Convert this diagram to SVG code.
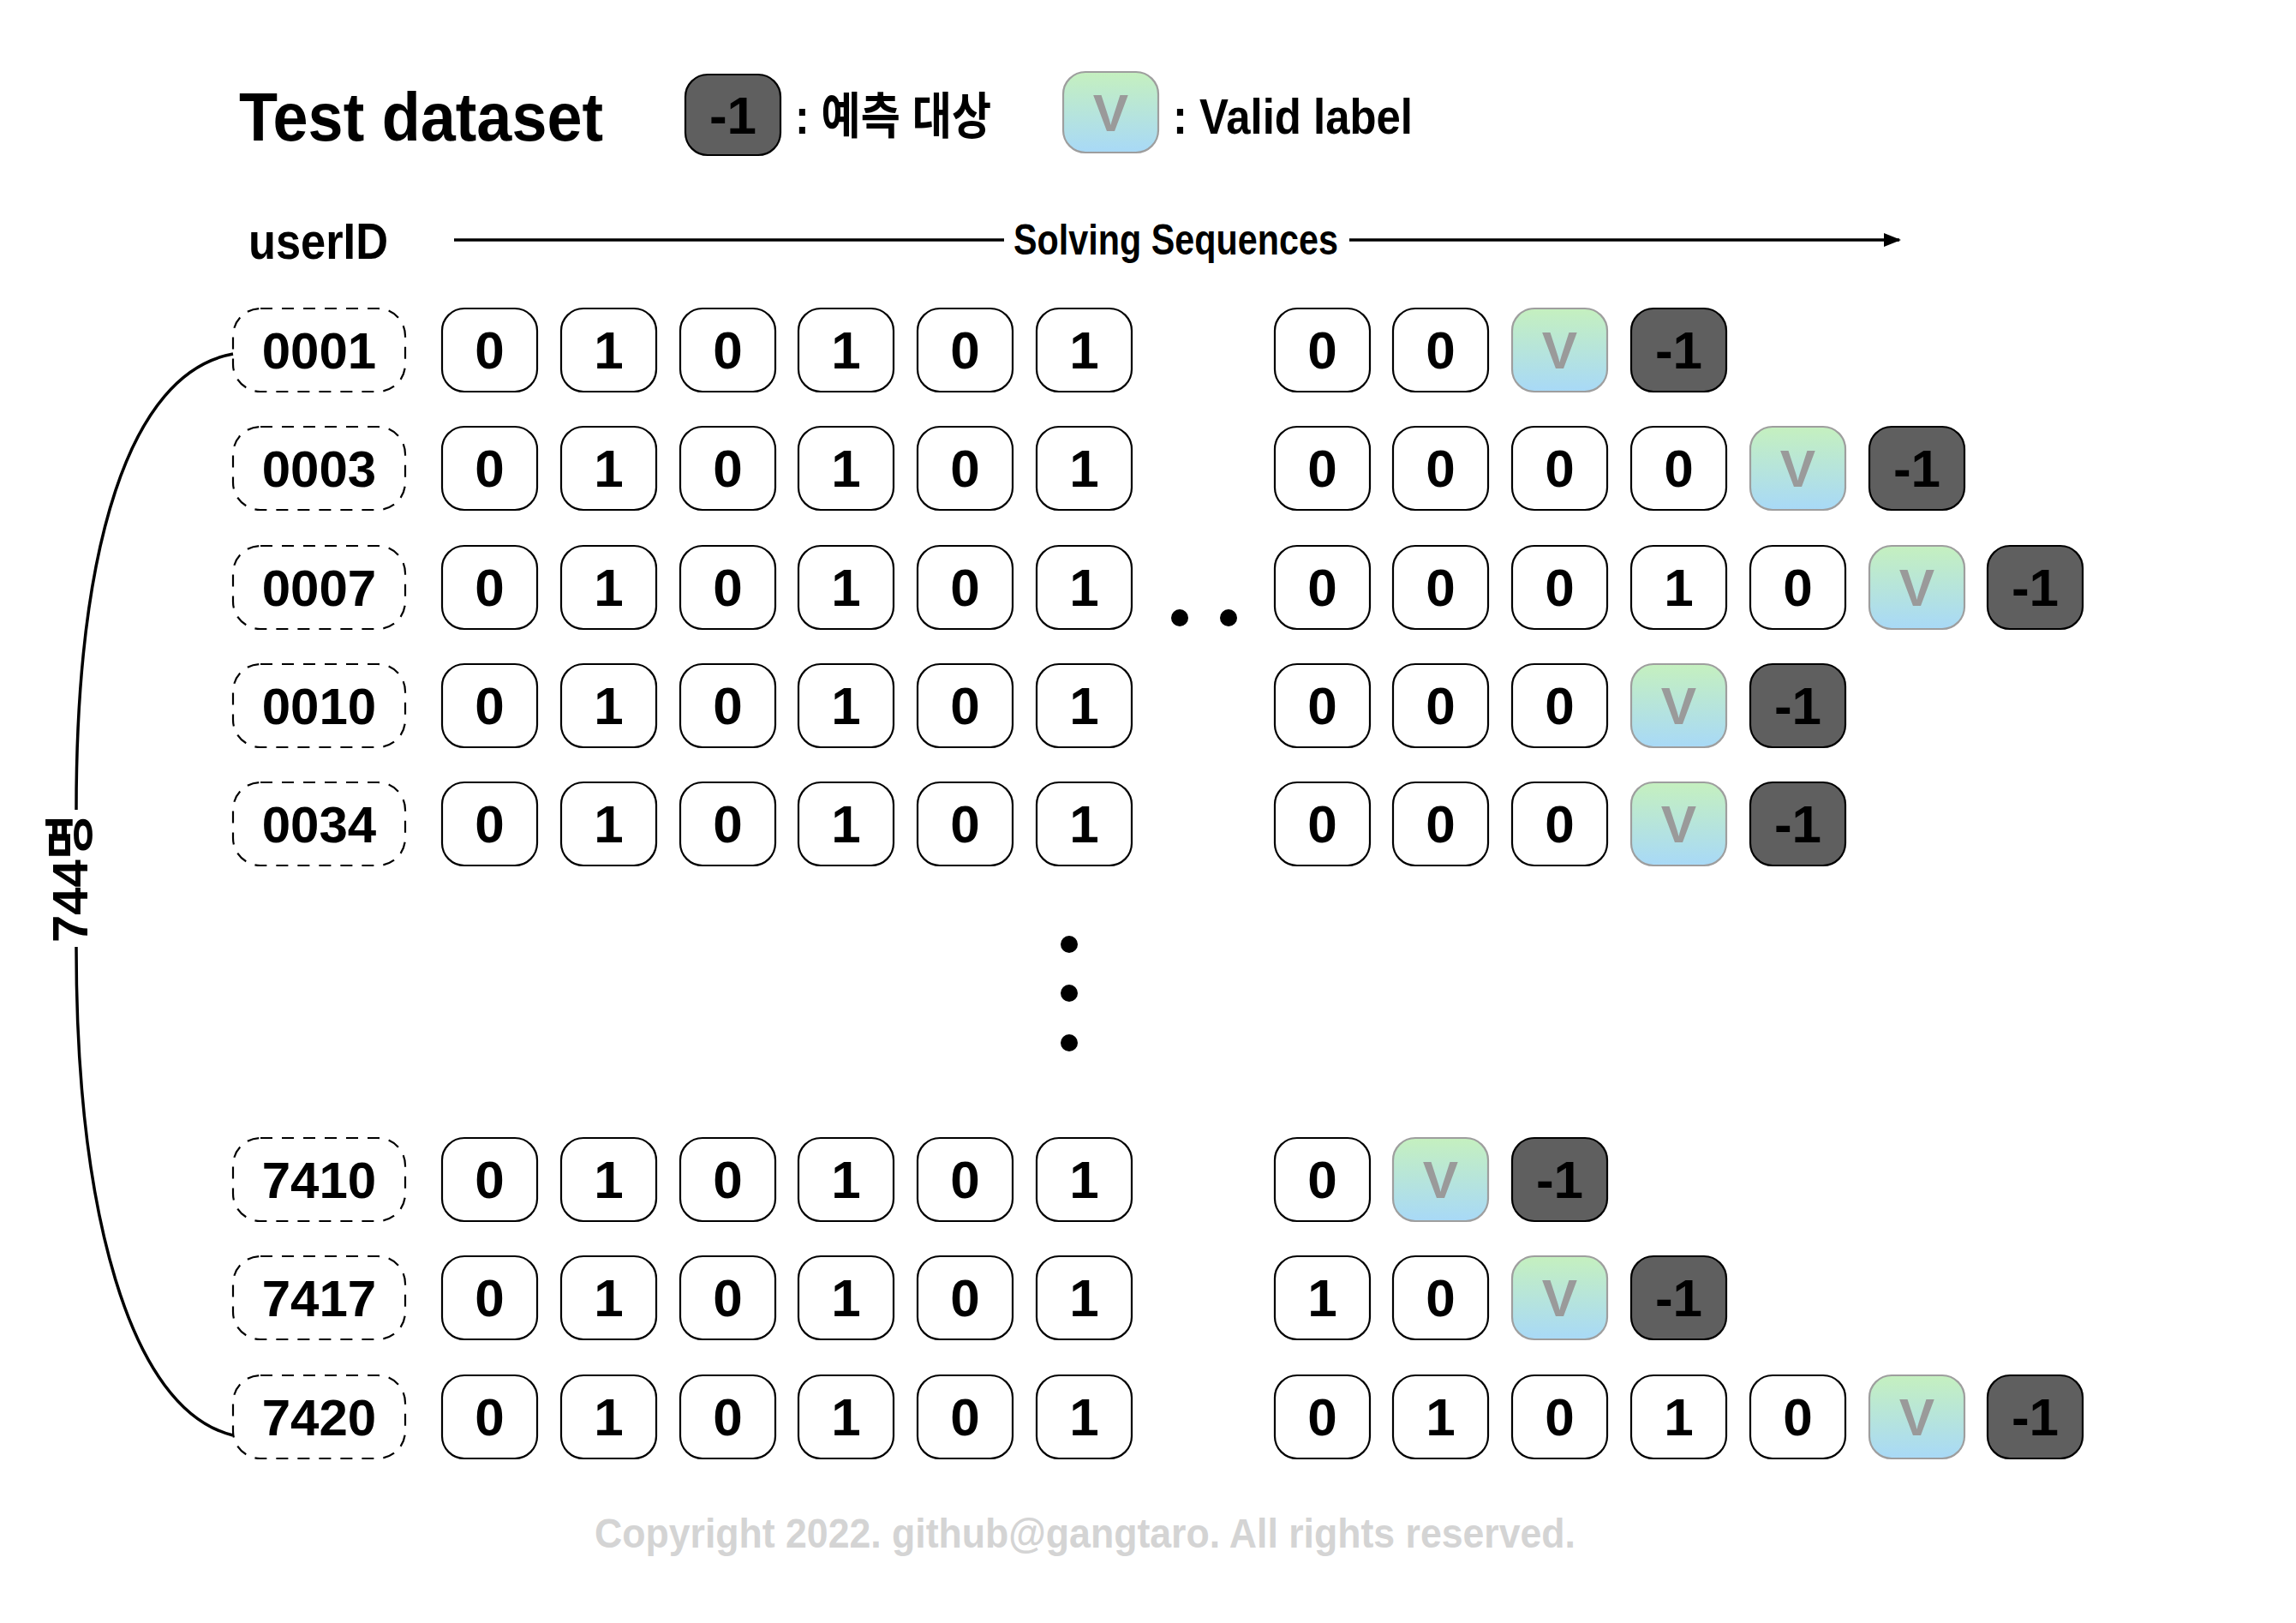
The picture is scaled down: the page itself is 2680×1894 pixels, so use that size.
<svg xmlns="http://www.w3.org/2000/svg" width="2680" height="1894" viewBox="0 0 2680 1894">
<defs>
<linearGradient id="vg" x1="0" y1="0" x2="0" y2="1"><stop offset="0" stop-color="#c5f0bf"/><stop offset="1" stop-color="#a8d9f7"/></linearGradient>
<marker id="ah" viewBox="0 0 20 16" refX="18" refY="8" markerWidth="20" markerHeight="16" markerUnits="userSpaceOnUse" orient="auto"><path d="M0,0 L20,8 L0,16 Z" fill="#000"/></marker>
<style>
text{font-family:"Liberation Sans","Noto Sans CJK KR",sans-serif;font-weight:bold}
.c{fill:#fff;stroke:#000;stroke-width:2.2}
.v{fill:url(#vg);stroke:#9e9e9e;stroke-width:2.2}
.n{fill:#5f5f5f;stroke:#000;stroke-width:2.2}
.u{fill:none;stroke:#000;stroke-width:2.2;stroke-dasharray:14 11}
.t{font-size:62px;text-anchor:middle;fill:#000}
.tv{font-size:62px;text-anchor:middle;fill:#9a9a9a}
.id{font-size:60px;text-anchor:middle;fill:#000}
.dot{fill:#000}
</style>
</defs>
<rect width="2680" height="1894" fill="#fff"/>
<g id="header">
<text x="279" y="164" font-size="80" textLength="425" lengthAdjust="spacingAndGlyphs">Test dataset</text>
<g id="legend-neg"><rect class="n" x="800" y="87" width="111" height="94" rx="26"/><text class="t" x="855.5" y="156">-1</text></g>
<text x="928" y="156" font-size="58" textLength="229" lengthAdjust="spacingAndGlyphs">: 예측 대상</text>
<g id="legend-v"><rect class="v" x="1241" y="84" width="111" height="94" rx="26"/><text class="tv" x="1296.5" y="153">V</text></g>
<text x="1369" y="156" font-size="58" textLength="280" lengthAdjust="spacingAndGlyphs">: Valid label</text>
<text x="290" y="302" font-size="60" textLength="163" lengthAdjust="spacingAndGlyphs">userID</text>
<text x="1183" y="297" font-size="50" textLength="379" lengthAdjust="spacingAndGlyphs">Solving Sequences</text>
</g>
<g id="connectors" fill="none" stroke="#000" stroke-width="3.5">
<path d="M530,280 H1172"/>
<path d="M1575,280 H2217" marker-end="url(#ah)"/>
<path d="M272,413 C150,435 89,640 89,945"/>
<path d="M89,1105 C89,1410 150,1645 272,1675"/>
</g>
<text x="82" y="1025" font-size="58" text-anchor="middle" transform="rotate(-90 82 1025)" dy="20">744명</text>
<g id="ellipsis">
<circle class="dot" cx="1377" cy="721" r="10"/><circle class="dot" cx="1434" cy="721" r="10"/>
<circle class="dot" cx="1248" cy="1102" r="10"/><circle class="dot" cx="1248" cy="1159" r="10"/><circle class="dot" cx="1248" cy="1217" r="10"/>
</g>

<g id="row-0001">
<g id="u0001"><rect class="u" x="272" y="360" width="201" height="97" rx="32"/><text class="id" x="372.5" y="430">0001</text></g>
<g id="r1c0"><rect class="c" x="516" y="360" width="111" height="97" rx="26"/><text class="t" x="571.5" y="430">0</text></g>
<g id="r1c1"><rect class="c" x="655" y="360" width="111" height="97" rx="26"/><text class="t" x="710.5" y="430">1</text></g>
<g id="r1c2"><rect class="c" x="794" y="360" width="111" height="97" rx="26"/><text class="t" x="849.5" y="430">0</text></g>
<g id="r1c3"><rect class="c" x="932" y="360" width="111" height="97" rx="26"/><text class="t" x="987.5" y="430">1</text></g>
<g id="r1c4"><rect class="c" x="1071" y="360" width="111" height="97" rx="26"/><text class="t" x="1126.5" y="430">0</text></g>
<g id="r1c5"><rect class="c" x="1210" y="360" width="111" height="97" rx="26"/><text class="t" x="1265.5" y="430">1</text></g>
<g id="r1c7"><rect class="c" x="1488" y="360" width="111" height="97" rx="26"/><text class="t" x="1543.5" y="430">0</text></g>
<g id="r1c8"><rect class="c" x="1626" y="360" width="111" height="97" rx="26"/><text class="t" x="1681.5" y="430">0</text></g>
<g id="r1c9"><rect class="v" x="1765" y="360" width="111" height="97" rx="26"/><text class="tv" x="1820.5" y="430">V</text></g>
<g id="r1c10"><rect class="n" x="1904" y="360" width="111" height="97" rx="26"/><text class="t" x="1959.5" y="430">-1</text></g>
</g>

<g id="row-0003">
<g id="u0003"><rect class="u" x="272" y="498" width="201" height="97" rx="32"/><text class="id" x="372.5" y="568">0003</text></g>
<g id="r2c0"><rect class="c" x="516" y="498" width="111" height="97" rx="26"/><text class="t" x="571.5" y="568">0</text></g>
<g id="r2c1"><rect class="c" x="655" y="498" width="111" height="97" rx="26"/><text class="t" x="710.5" y="568">1</text></g>
<g id="r2c2"><rect class="c" x="794" y="498" width="111" height="97" rx="26"/><text class="t" x="849.5" y="568">0</text></g>
<g id="r2c3"><rect class="c" x="932" y="498" width="111" height="97" rx="26"/><text class="t" x="987.5" y="568">1</text></g>
<g id="r2c4"><rect class="c" x="1071" y="498" width="111" height="97" rx="26"/><text class="t" x="1126.5" y="568">0</text></g>
<g id="r2c5"><rect class="c" x="1210" y="498" width="111" height="97" rx="26"/><text class="t" x="1265.5" y="568">1</text></g>
<g id="r2c7"><rect class="c" x="1488" y="498" width="111" height="97" rx="26"/><text class="t" x="1543.5" y="568">0</text></g>
<g id="r2c8"><rect class="c" x="1626" y="498" width="111" height="97" rx="26"/><text class="t" x="1681.5" y="568">0</text></g>
<g id="r2c9"><rect class="c" x="1765" y="498" width="111" height="97" rx="26"/><text class="t" x="1820.5" y="568">0</text></g>
<g id="r2c10"><rect class="c" x="1904" y="498" width="111" height="97" rx="26"/><text class="t" x="1959.5" y="568">0</text></g>
<g id="r2c11"><rect class="v" x="2043" y="498" width="111" height="97" rx="26"/><text class="tv" x="2098.5" y="568">V</text></g>
<g id="r2c12"><rect class="n" x="2182" y="498" width="111" height="97" rx="26"/><text class="t" x="2237.5" y="568">-1</text></g>
</g>

<g id="row-0007">
<g id="u0007"><rect class="u" x="272" y="637" width="201" height="97" rx="32"/><text class="id" x="372.5" y="707">0007</text></g>
<g id="r3c0"><rect class="c" x="516" y="637" width="111" height="97" rx="26"/><text class="t" x="571.5" y="707">0</text></g>
<g id="r3c1"><rect class="c" x="655" y="637" width="111" height="97" rx="26"/><text class="t" x="710.5" y="707">1</text></g>
<g id="r3c2"><rect class="c" x="794" y="637" width="111" height="97" rx="26"/><text class="t" x="849.5" y="707">0</text></g>
<g id="r3c3"><rect class="c" x="932" y="637" width="111" height="97" rx="26"/><text class="t" x="987.5" y="707">1</text></g>
<g id="r3c4"><rect class="c" x="1071" y="637" width="111" height="97" rx="26"/><text class="t" x="1126.5" y="707">0</text></g>
<g id="r3c5"><rect class="c" x="1210" y="637" width="111" height="97" rx="26"/><text class="t" x="1265.5" y="707">1</text></g>
<g id="r3c7"><rect class="c" x="1488" y="637" width="111" height="97" rx="26"/><text class="t" x="1543.5" y="707">0</text></g>
<g id="r3c8"><rect class="c" x="1626" y="637" width="111" height="97" rx="26"/><text class="t" x="1681.5" y="707">0</text></g>
<g id="r3c9"><rect class="c" x="1765" y="637" width="111" height="97" rx="26"/><text class="t" x="1820.5" y="707">0</text></g>
<g id="r3c10"><rect class="c" x="1904" y="637" width="111" height="97" rx="26"/><text class="t" x="1959.5" y="707">1</text></g>
<g id="r3c11"><rect class="c" x="2043" y="637" width="111" height="97" rx="26"/><text class="t" x="2098.5" y="707">0</text></g>
<g id="r3c12"><rect class="v" x="2182" y="637" width="111" height="97" rx="26"/><text class="tv" x="2237.5" y="707">V</text></g>
<g id="r3c13"><rect class="n" x="2320" y="637" width="111" height="97" rx="26"/><text class="t" x="2375.5" y="707">-1</text></g>
</g>

<g id="row-0010">
<g id="u0010"><rect class="u" x="272" y="775" width="201" height="97" rx="32"/><text class="id" x="372.5" y="845">0010</text></g>
<g id="r4c0"><rect class="c" x="516" y="775" width="111" height="97" rx="26"/><text class="t" x="571.5" y="845">0</text></g>
<g id="r4c1"><rect class="c" x="655" y="775" width="111" height="97" rx="26"/><text class="t" x="710.5" y="845">1</text></g>
<g id="r4c2"><rect class="c" x="794" y="775" width="111" height="97" rx="26"/><text class="t" x="849.5" y="845">0</text></g>
<g id="r4c3"><rect class="c" x="932" y="775" width="111" height="97" rx="26"/><text class="t" x="987.5" y="845">1</text></g>
<g id="r4c4"><rect class="c" x="1071" y="775" width="111" height="97" rx="26"/><text class="t" x="1126.5" y="845">0</text></g>
<g id="r4c5"><rect class="c" x="1210" y="775" width="111" height="97" rx="26"/><text class="t" x="1265.5" y="845">1</text></g>
<g id="r4c7"><rect class="c" x="1488" y="775" width="111" height="97" rx="26"/><text class="t" x="1543.5" y="845">0</text></g>
<g id="r4c8"><rect class="c" x="1626" y="775" width="111" height="97" rx="26"/><text class="t" x="1681.5" y="845">0</text></g>
<g id="r4c9"><rect class="c" x="1765" y="775" width="111" height="97" rx="26"/><text class="t" x="1820.5" y="845">0</text></g>
<g id="r4c10"><rect class="v" x="1904" y="775" width="111" height="97" rx="26"/><text class="tv" x="1959.5" y="845">V</text></g>
<g id="r4c11"><rect class="n" x="2043" y="775" width="111" height="97" rx="26"/><text class="t" x="2098.5" y="845">-1</text></g>
</g>

<g id="row-0034">
<g id="u0034"><rect class="u" x="272" y="913" width="201" height="97" rx="32"/><text class="id" x="372.5" y="983">0034</text></g>
<g id="r5c0"><rect class="c" x="516" y="913" width="111" height="97" rx="26"/><text class="t" x="571.5" y="983">0</text></g>
<g id="r5c1"><rect class="c" x="655" y="913" width="111" height="97" rx="26"/><text class="t" x="710.5" y="983">1</text></g>
<g id="r5c2"><rect class="c" x="794" y="913" width="111" height="97" rx="26"/><text class="t" x="849.5" y="983">0</text></g>
<g id="r5c3"><rect class="c" x="932" y="913" width="111" height="97" rx="26"/><text class="t" x="987.5" y="983">1</text></g>
<g id="r5c4"><rect class="c" x="1071" y="913" width="111" height="97" rx="26"/><text class="t" x="1126.5" y="983">0</text></g>
<g id="r5c5"><rect class="c" x="1210" y="913" width="111" height="97" rx="26"/><text class="t" x="1265.5" y="983">1</text></g>
<g id="r5c7"><rect class="c" x="1488" y="913" width="111" height="97" rx="26"/><text class="t" x="1543.5" y="983">0</text></g>
<g id="r5c8"><rect class="c" x="1626" y="913" width="111" height="97" rx="26"/><text class="t" x="1681.5" y="983">0</text></g>
<g id="r5c9"><rect class="c" x="1765" y="913" width="111" height="97" rx="26"/><text class="t" x="1820.5" y="983">0</text></g>
<g id="r5c10"><rect class="v" x="1904" y="913" width="111" height="97" rx="26"/><text class="tv" x="1959.5" y="983">V</text></g>
<g id="r5c11"><rect class="n" x="2043" y="913" width="111" height="97" rx="26"/><text class="t" x="2098.5" y="983">-1</text></g>
</g>

<g id="row-7410">
<g id="u7410"><rect class="u" x="272" y="1328" width="201" height="97" rx="32"/><text class="id" x="372.5" y="1398">7410</text></g>
<g id="r6c0"><rect class="c" x="516" y="1328" width="111" height="97" rx="26"/><text class="t" x="571.5" y="1398">0</text></g>
<g id="r6c1"><rect class="c" x="655" y="1328" width="111" height="97" rx="26"/><text class="t" x="710.5" y="1398">1</text></g>
<g id="r6c2"><rect class="c" x="794" y="1328" width="111" height="97" rx="26"/><text class="t" x="849.5" y="1398">0</text></g>
<g id="r6c3"><rect class="c" x="932" y="1328" width="111" height="97" rx="26"/><text class="t" x="987.5" y="1398">1</text></g>
<g id="r6c4"><rect class="c" x="1071" y="1328" width="111" height="97" rx="26"/><text class="t" x="1126.5" y="1398">0</text></g>
<g id="r6c5"><rect class="c" x="1210" y="1328" width="111" height="97" rx="26"/><text class="t" x="1265.5" y="1398">1</text></g>
<g id="r6c7"><rect class="c" x="1488" y="1328" width="111" height="97" rx="26"/><text class="t" x="1543.5" y="1398">0</text></g>
<g id="r6c8"><rect class="v" x="1626" y="1328" width="111" height="97" rx="26"/><text class="tv" x="1681.5" y="1398">V</text></g>
<g id="r6c9"><rect class="n" x="1765" y="1328" width="111" height="97" rx="26"/><text class="t" x="1820.5" y="1398">-1</text></g>
</g>

<g id="row-7417">
<g id="u7417"><rect class="u" x="272" y="1466" width="201" height="97" rx="32"/><text class="id" x="372.5" y="1536">7417</text></g>
<g id="r7c0"><rect class="c" x="516" y="1466" width="111" height="97" rx="26"/><text class="t" x="571.5" y="1536">0</text></g>
<g id="r7c1"><rect class="c" x="655" y="1466" width="111" height="97" rx="26"/><text class="t" x="710.5" y="1536">1</text></g>
<g id="r7c2"><rect class="c" x="794" y="1466" width="111" height="97" rx="26"/><text class="t" x="849.5" y="1536">0</text></g>
<g id="r7c3"><rect class="c" x="932" y="1466" width="111" height="97" rx="26"/><text class="t" x="987.5" y="1536">1</text></g>
<g id="r7c4"><rect class="c" x="1071" y="1466" width="111" height="97" rx="26"/><text class="t" x="1126.5" y="1536">0</text></g>
<g id="r7c5"><rect class="c" x="1210" y="1466" width="111" height="97" rx="26"/><text class="t" x="1265.5" y="1536">1</text></g>
<g id="r7c7"><rect class="c" x="1488" y="1466" width="111" height="97" rx="26"/><text class="t" x="1543.5" y="1536">1</text></g>
<g id="r7c8"><rect class="c" x="1626" y="1466" width="111" height="97" rx="26"/><text class="t" x="1681.5" y="1536">0</text></g>
<g id="r7c9"><rect class="v" x="1765" y="1466" width="111" height="97" rx="26"/><text class="tv" x="1820.5" y="1536">V</text></g>
<g id="r7c10"><rect class="n" x="1904" y="1466" width="111" height="97" rx="26"/><text class="t" x="1959.5" y="1536">-1</text></g>
</g>

<g id="row-7420">
<g id="u7420"><rect class="u" x="272" y="1605" width="201" height="97" rx="32"/><text class="id" x="372.5" y="1675">7420</text></g>
<g id="r8c0"><rect class="c" x="516" y="1605" width="111" height="97" rx="26"/><text class="t" x="571.5" y="1675">0</text></g>
<g id="r8c1"><rect class="c" x="655" y="1605" width="111" height="97" rx="26"/><text class="t" x="710.5" y="1675">1</text></g>
<g id="r8c2"><rect class="c" x="794" y="1605" width="111" height="97" rx="26"/><text class="t" x="849.5" y="1675">0</text></g>
<g id="r8c3"><rect class="c" x="932" y="1605" width="111" height="97" rx="26"/><text class="t" x="987.5" y="1675">1</text></g>
<g id="r8c4"><rect class="c" x="1071" y="1605" width="111" height="97" rx="26"/><text class="t" x="1126.5" y="1675">0</text></g>
<g id="r8c5"><rect class="c" x="1210" y="1605" width="111" height="97" rx="26"/><text class="t" x="1265.5" y="1675">1</text></g>
<g id="r8c7"><rect class="c" x="1488" y="1605" width="111" height="97" rx="26"/><text class="t" x="1543.5" y="1675">0</text></g>
<g id="r8c8"><rect class="c" x="1626" y="1605" width="111" height="97" rx="26"/><text class="t" x="1681.5" y="1675">1</text></g>
<g id="r8c9"><rect class="c" x="1765" y="1605" width="111" height="97" rx="26"/><text class="t" x="1820.5" y="1675">0</text></g>
<g id="r8c10"><rect class="c" x="1904" y="1605" width="111" height="97" rx="26"/><text class="t" x="1959.5" y="1675">1</text></g>
<g id="r8c11"><rect class="c" x="2043" y="1605" width="111" height="97" rx="26"/><text class="t" x="2098.5" y="1675">0</text></g>
<g id="r8c12"><rect class="v" x="2182" y="1605" width="111" height="97" rx="26"/><text class="tv" x="2237.5" y="1675">V</text></g>
<g id="r8c13"><rect class="n" x="2320" y="1605" width="111" height="97" rx="26"/><text class="t" x="2375.5" y="1675">-1</text></g>
</g>

<text x="694" y="1806" font-size="48" fill="#d4d4d4" textLength="1145" lengthAdjust="spacingAndGlyphs">Copyright 2022. github@gangtaro. All rights reserved.</text>
</svg>
